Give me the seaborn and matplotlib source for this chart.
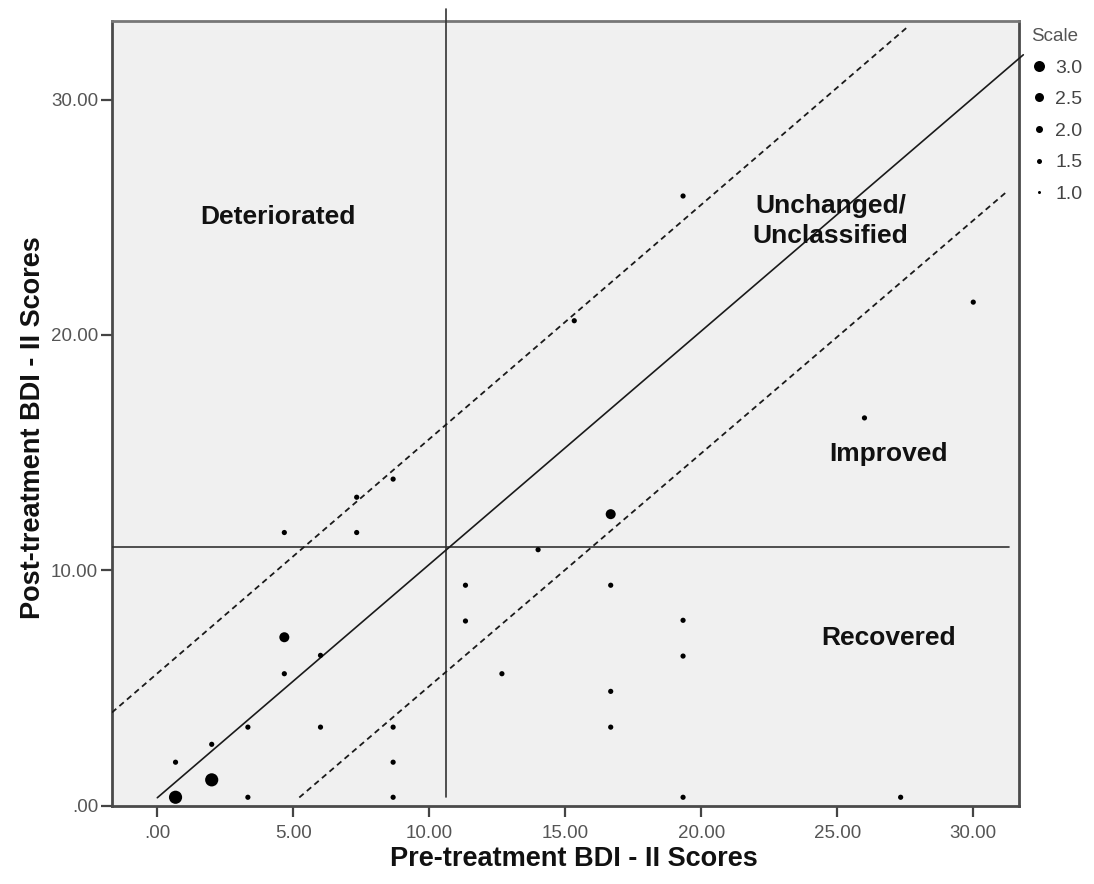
import matplotlib
matplotlib.use("Agg")
import matplotlib.pyplot as plt
from matplotlib.lines import Line2D
import seaborn as sns
import pandas as pd

# ---------------- data ----------------
pre_scores = [0.67, 0.67, 2.0, 2.0, 3.33, 3.33, 4.67, 4.67, 4.67, 6.0, 6.0,
              7.33, 7.33, 8.67, 8.67, 8.67, 8.67, 11.33, 11.33, 12.67, 14.0,
              15.33, 16.67, 16.67, 16.67, 16.67, 19.33, 19.33, 19.33, 19.33,
              26.0, 27.33, 30.0]
post_scores = [0.35, 1.84, 1.09, 2.6, 0.35, 3.33, 5.6, 7.15, 11.6, 3.33, 6.38,
               11.6, 13.1, 0.35, 1.84, 3.33, 13.87, 7.84, 9.36, 5.6, 10.87,
               20.6, 3.33, 4.85, 9.36, 12.38, 0.35, 6.35, 7.87, 25.9,
               16.47, 0.35, 21.39]
scale_counts = [3, 1, 3, 1, 1, 1, 1, 2, 1, 1, 1,
                1, 1, 1, 1, 1, 1, 1, 1, 1, 1,
                1, 1, 1, 1, 2, 1, 1, 1, 1,
                1, 1, 1]

# clinical cut-offs and reliable-change lines
cutoff_pre = 10.6
cutoff_post = 11.0
no_change_x = [0.0, 31.84]
no_change_y = [0.33, 31.9]
deteriorate_x = [-1.67, 27.6]
deteriorate_y = [3.95, 33.1]
improve_x = [5.22, 31.25]
improve_y = [0.34, 26.1]

region_labels = ["Deteriorated", "Unchanged/\nUnclassified", "Improved", "Recovered"]
region_x = [4.45, 24.75, 26.9, 26.9]
region_y = [25.0, 24.85, 14.95, 7.1]

legend_values = [3.0, 2.5, 2.0, 1.5, 1.0]
x_ticks = [0, 5, 10, 15, 20, 25, 30]
y_ticks = [0, 10, 20, 30]


def fmt(v):
    s = f"{v:.2f}"
    return s[1:] if s.startswith("0") else s


# ---------------- style ----------------
sns.set_style("white")
plt.rcParams["font.family"] = ["Liberation Sans", "DejaVu Sans"]

fig = plt.figure(figsize=(10.94, 8.84), dpi=100)
ax = fig.add_axes([0.1024, 0.0888, 0.829, 0.8878])
ax.set_facecolor("#F0F0F0")

df = pd.DataFrame({"pre": pre_scores, "post": post_scores, "scale": scale_counts})
sns.scatterplot(data=df, x="pre", y="post", size="scale", sizes=(14, 90),
                size_norm=(1, 3), color="black", edgecolor="none",
                legend=False, ax=ax, zorder=5)

line_col = "#1a1a1a"
ax.plot([cutoff_pre, cutoff_pre], [0.34, 33.83], color="#333333", lw=1.2,
        clip_on=False, zorder=3)
ax.plot([-1.67, 31.3], [cutoff_post, cutoff_post], color="#333333", lw=1.2,
        zorder=3)
ax.plot(no_change_x, no_change_y, color=line_col, lw=1.2, clip_on=False, zorder=3)
ax.plot(deteriorate_x, deteriorate_y, color=line_col, lw=1.3,
        linestyle=(0, (3.2, 2.3)), zorder=3)
ax.plot(improve_x, improve_y, color=line_col, lw=1.3,
        linestyle=(0, (3.2, 2.3)), zorder=3)

for lab, lx, ly in zip(region_labels, region_x, region_y):
    ax.text(lx, ly, lab, ha="center", va="center", fontsize=19,
            fontweight="bold", color="#111111", linespacing=1.3, zorder=6)

ax.set_xlim(-1.665, 31.68)
ax.set_ylim(0, 33.35)
ax.set_xticks(x_ticks)
ax.set_xticklabels([fmt(v) for v in x_ticks])
ax.set_yticks(y_ticks)
ax.set_yticklabels([fmt(v) for v in y_ticks])
ax.tick_params(axis="both", which="major", labelsize=13.5, labelcolor="#555555",
               color="#444444", width=1.6, length=8, direction="out")
ax.tick_params(axis="x", pad=6)
ax.tick_params(axis="y", pad=2)
ax.tick_params(bottom=True, left=True)

for side in ["left", "bottom", "right", "top"]:
    ax.spines[side].set_visible(True)
    ax.spines[side].set_linewidth(2.0)
    ax.spines[side].set_color("#4a4a4a")
ax.spines["top"].set_color("#777777")

ax.set_xlabel("Pre-treatment BDI - II Scores", fontsize=19.5, fontweight="bold",
              color="#111111")
ax.set_ylabel("Post-treatment BDI - II Scores", fontsize=19.5, fontweight="bold",
              color="#111111")
ax.xaxis.set_label_coords(0.509, -0.052)
ax.yaxis.set_label_coords(-0.0728, 0.481)

# size legend
handles = []
diam_px = {3.0: 11.0, 2.5: 9.0, 2.0: 7.0, 1.5: 5.0, 1.0: 3.0}
for v in legend_values:
    handles.append(Line2D([0], [0], marker="o", linestyle="none", color="black",
                          markeredgewidth=0, markersize=diam_px[v] / 1.389,
                          label=f"{v:.1f}"))
leg = fig.legend(handles=handles, title="Scale", loc="upper left",
                 bbox_to_anchor=(1031 / 1094, 1 - 28 / 884), frameon=False,
                 fontsize=14, title_fontsize=13.5, handlelength=0.8,
                 handletextpad=0.45, labelspacing=0.72, borderaxespad=0,
                 borderpad=0)
for t in leg.get_texts():
    t.set_color("#444444")
leg.get_title().set_color("#555555")
leg._legend_box.align = "left"

fig.savefig("out.png", dpi=100)
